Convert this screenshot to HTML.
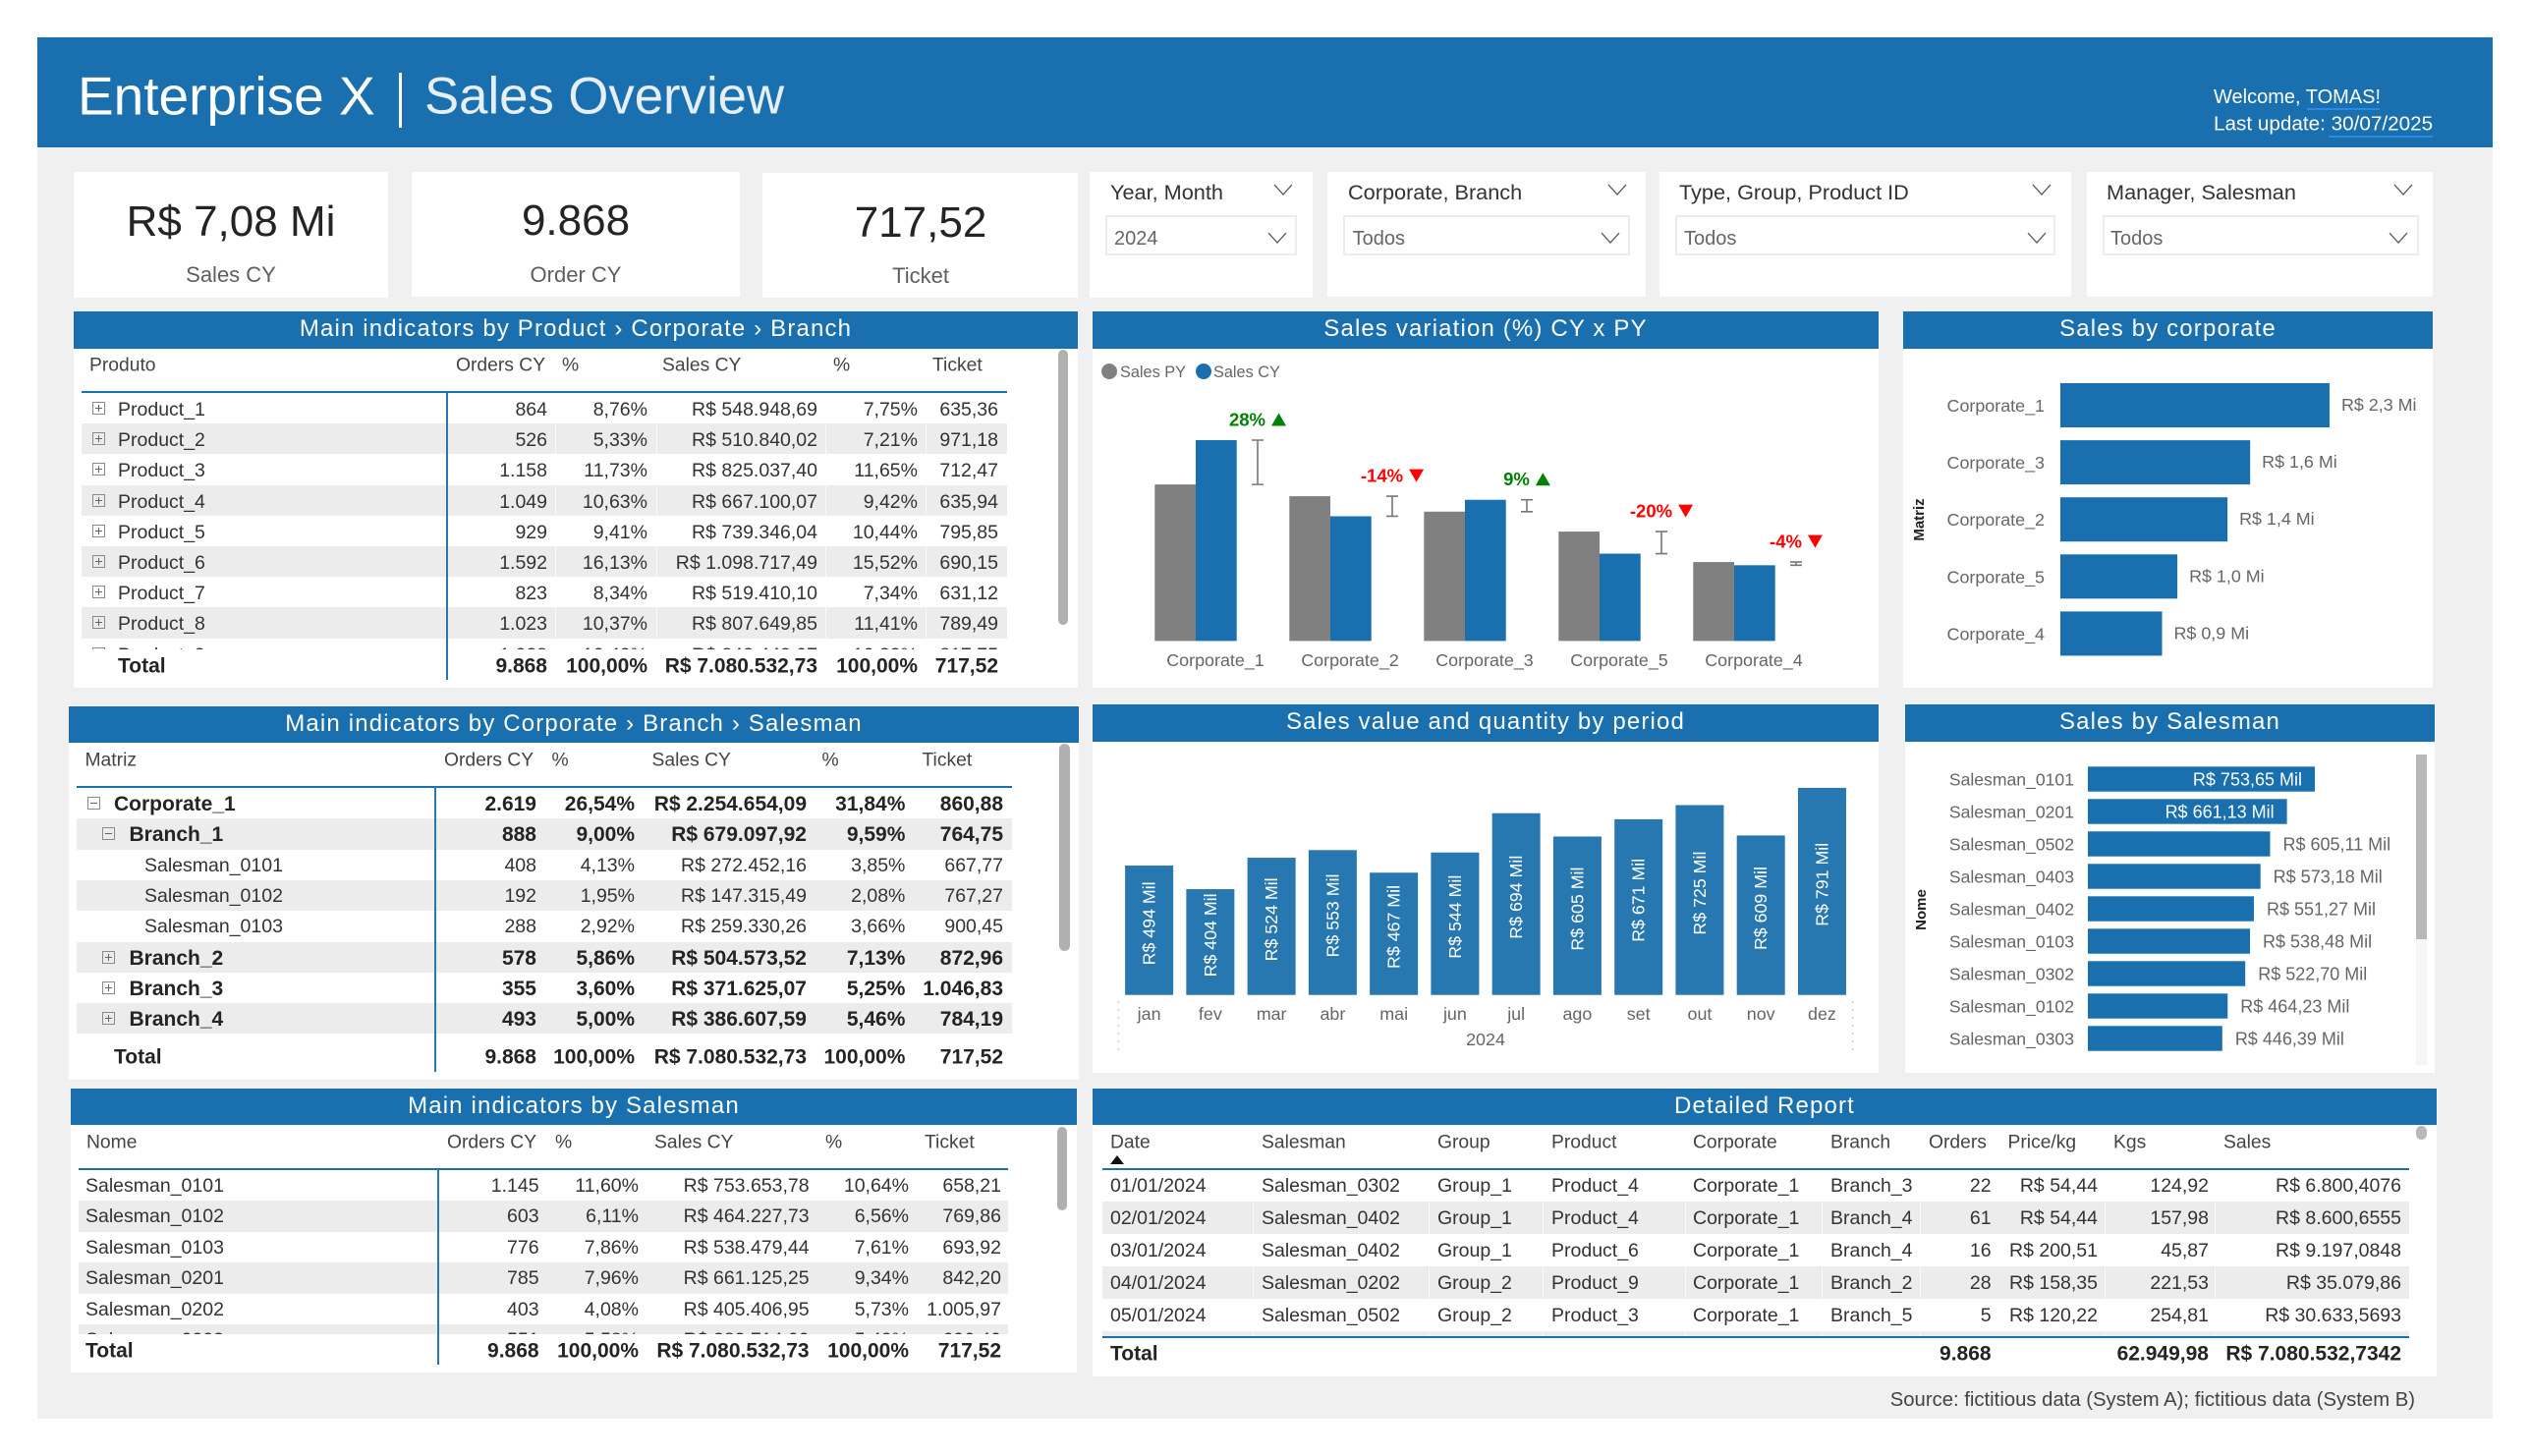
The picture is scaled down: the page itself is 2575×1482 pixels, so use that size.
<!DOCTYPE html>
<html lang="en">
<head>
<meta charset="utf-8">
<title>Enterprise X | Sales Overview</title>
<style>
html,body{margin:0;padding:0;background:#fff}
#page{position:relative;width:2575px;height:1482px;overflow:hidden;background:#fff;font-family:"Liberation Sans",sans-serif;color:#333}
#bg{position:absolute;left:38px;top:38px;width:2499px;height:1406px;background:#f0f0f0}
.box{position:absolute;background:#fff}
.bar{position:absolute;background:#1a6fae;color:#fff;text-align:center;font-size:24px;letter-spacing:1.15px;display:flex;align-items:center;justify-content:center;box-sizing:border-box;padding-bottom:2px}
.t{position:absolute;white-space:nowrap;line-height:1;transform:translateY(-50%)}
.tc{position:absolute;white-space:nowrap;line-height:1;transform:translate(-50%,-50%)}
.chev{position:absolute;width:20px;height:12px;overflow:visible}
.chev polyline{fill:none;stroke:#555;stroke-width:1.3}
.field{position:absolute;top:219px;height:41px;box-sizing:border-box;border:2px solid #ececec;background:#fff}
.hd{font-size:19.3px;color:#444}
.tb{position:absolute;overflow:hidden}
.row{position:absolute;left:0;right:0;font-size:19.5px;color:#333}
.row.alt{background:#ececec}
.row.b{font-weight:bold;font-size:21px;color:#252423}
.c{position:absolute;top:0;white-space:nowrap;line-height:inherit}
.tot{font-weight:bold;font-size:21px;color:#252423}
.hline{position:absolute;height:2px;background:#1a6fae}
.vline{position:absolute;width:2px;background:#2a76ae}
.sep{position:absolute;width:1px;background:rgba(255,255,255,.75)}
.thumb{position:absolute;background:#b0b0b0;border-radius:6px}
.ico{position:absolute;width:11px;height:11px;border:1px solid #8a8a8a;box-sizing:content-box}
.ico::before{content:"";position:absolute;left:2px;right:2px;top:5px;height:1px;background:#666}
.ico.plus::after{content:"";position:absolute;top:2px;bottom:2px;left:5px;width:1px;background:#666}
svg.chart{position:absolute;overflow:visible}
svg.chart text{font-family:"Liberation Sans",sans-serif}
#t1 .r1{right:468px}#t1 .r2{right:366px}#t1 .r3{right:193px}#t1 .r4{right:91px}#t1 .r5{right:9px}
#t1 .row{height:31.2px;line-height:34.5px}
#t2 .r1{right:484px}#t2 .r2{right:384px}#t2 .r3{right:209px}#t2 .r4{right:108.6px}#t2 .r5{right:9px}
#t2 .row{height:31.3px;line-height:33.5px}
#t3 .r1{right:477.8px}#t3 .r2{right:376.4px}#t3 .r3{right:202.8px}#t3 .r4{right:101.4px}#t3 .r5{right:7.4px}
#t3 .row{height:31.4px;line-height:33.5px}
#t4 .row{height:33px;line-height:34px}
#t4 .d1{left:8px}#t4 .d2{left:162px}#t4 .d3{left:341px}#t4 .d4{left:457px}#t4 .d5{left:601px}#t4 .d6{left:741px}
#t4 .r1{right:425.4px}#t4 .r2{right:317px}#t4 .r3{right:204px}#t4 .r4{right:8px}
</style>
</head>
<body>
<div id="page">
<div id="bg"></div>

<div class="box" style="left:38px;top:38px;width:2499px;height:112px;background:#1a6fae"></div>
<div class="t" style="left:79px;top:98px;font-size:55px;color:#fff">Enterprise X</div>
<div class="box" style="left:406px;top:74px;width:2.5px;height:56px;background:#fff"></div>
<div class="t" style="left:432px;top:98.5px;font-size:52.7px;color:#e6eff6">Sales Overview</div>
<div class="t" style="left:2253px;top:98.5px;font-size:20px;color:#fff">Welcome, TOMAS!</div>
<div class="box" style="left:2348px;top:110px;width:74px;height:1.5px;background:#2d8ae0"></div>
<div class="t" style="left:2253px;top:126.5px;font-size:20.7px;color:#fff">Last update: 30/07/2025</div>
<div class="box" style="left:2370px;top:138px;width:106px;height:1.5px;background:#2d8ae0"></div>

<div class="box" style="left:75px;top:175px;width:320px;height:128px"></div>
<div class="tc" style="left:235px;top:226px;font-size:44px;color:#252423">R$ 7,08 Mi</div>
<div class="tc" style="left:235px;top:279.5px;font-size:22px;color:#605e5c">Sales CY</div>
<div class="box" style="left:419px;top:175px;width:334px;height:127px"></div>
<div class="tc" style="left:586px;top:225px;font-size:44px;color:#252423">9.868</div>
<div class="tc" style="left:586px;top:279.5px;font-size:22px;color:#605e5c">Order CY</div>
<div class="box" style="left:776px;top:176px;width:321px;height:127px"></div>
<div class="tc" style="left:937px;top:227px;font-size:44px;color:#252423">717,52</div>
<div class="tc" style="left:937px;top:280.5px;font-size:22px;color:#605e5c">Ticket</div>

<div class="box" style="left:1109px;top:175px;width:227px;height:128px"></div>
<div class="t" style="left:1130px;top:196px;font-size:21.7px;color:#333">Year, Month</div>
<svg class="chev" style="left:1296px;top:187px" viewBox="0 0 20 12"><polyline points="1,1 10,11 19,1"/></svg>
<div class="field" style="left:1125px;width:195px"></div>
<div class="t" style="left:1134px;top:243px;font-size:20px;color:#666">2024</div>
<svg class="chev" style="left:1290px;top:236px" viewBox="0 0 20 12"><polyline points="1,1 10,11 19,1"/></svg>

<div class="box" style="left:1351px;top:175px;width:324px;height:127px"></div>
<div class="t" style="left:1372px;top:196px;font-size:21.7px;color:#333">Corporate, Branch</div>
<svg class="chev" style="left:1636px;top:187px" viewBox="0 0 20 12"><polyline points="1,1 10,11 19,1"/></svg>
<div class="field" style="left:1367px;width:292px"></div>
<div class="t" style="left:1376.6px;top:243px;font-size:20px;color:#666">Todos</div>
<svg class="chev" style="left:1629px;top:236px" viewBox="0 0 20 12"><polyline points="1,1 10,11 19,1"/></svg>

<div class="box" style="left:1689px;top:175px;width:419px;height:127px"></div>
<div class="t" style="left:1709px;top:196px;font-size:21.7px;color:#333">Type, Group, Product ID</div>
<svg class="chev" style="left:2068px;top:187px" viewBox="0 0 20 12"><polyline points="1,1 10,11 19,1"/></svg>
<div class="field" style="left:1705px;width:387px"></div>
<div class="t" style="left:1714px;top:243px;font-size:20px;color:#666">Todos</div>
<svg class="chev" style="left:2063px;top:236px" viewBox="0 0 20 12"><polyline points="1,1 10,11 19,1"/></svg>

<div class="box" style="left:2124px;top:175px;width:352px;height:127px"></div>
<div class="t" style="left:2144px;top:196px;font-size:21.7px;color:#333">Manager, Salesman</div>
<svg class="chev" style="left:2436px;top:187px" viewBox="0 0 20 12"><polyline points="1,1 10,11 19,1"/></svg>
<div class="field" style="left:2139.5px;width:322px"></div>
<div class="t" style="left:2148px;top:243px;font-size:20px;color:#666">Todos</div>
<svg class="chev" style="left:2431px;top:236px" viewBox="0 0 20 12"><polyline points="1,1 10,11 19,1"/></svg>

<!-- Panel: product table -->
<div class="box" style="left:75px;top:355px;width:1022px;height:345px"></div>
<div class="bar" style="left:75px;top:317px;width:1022px;height:38px">Main indicators by Product › Corporate › Branch</div>
<div class="t hd" style="left:91px;top:371.5px">Produto</div>
<div class="t hd" style="left:464px;top:371.5px">Orders CY</div>
<div class="t hd" style="left:572px;top:371.5px">%</div>
<div class="t hd" style="left:674px;top:371.5px">Sales CY</div>
<div class="t hd" style="left:848px;top:371.5px">%</div>
<div class="t hd" style="left:949px;top:371.5px">Ticket</div>
<div id="t1" class="tb" style="left:83px;top:400px;width:942px;height:261px">
<div class="row" style="top:0"><span class="ico plus" style="left:11px;top:9px"></span><span class="c" style="left:37px">Product_1</span><span class="c r1">864</span><span class="c r2">8,76%</span><span class="c r3">R$ 548.948,69</span><span class="c r4">7,75%</span><span class="c r5">635,36</span></div>
<div class="row alt" style="top:31.2px"><span class="ico plus" style="left:11px;top:9px"></span><span class="c" style="left:37px">Product_2</span><span class="c r1">526</span><span class="c r2">5,33%</span><span class="c r3">R$ 510.840,02</span><span class="c r4">7,21%</span><span class="c r5">971,18</span></div>
<div class="row" style="top:62.4px"><span class="ico plus" style="left:11px;top:9px"></span><span class="c" style="left:37px">Product_3</span><span class="c r1">1.158</span><span class="c r2">11,73%</span><span class="c r3">R$ 825.037,40</span><span class="c r4">11,65%</span><span class="c r5">712,47</span></div>
<div class="row alt" style="top:93.6px"><span class="ico plus" style="left:11px;top:9px"></span><span class="c" style="left:37px">Product_4</span><span class="c r1">1.049</span><span class="c r2">10,63%</span><span class="c r3">R$ 667.100,07</span><span class="c r4">9,42%</span><span class="c r5">635,94</span></div>
<div class="row" style="top:124.8px"><span class="ico plus" style="left:11px;top:9px"></span><span class="c" style="left:37px">Product_5</span><span class="c r1">929</span><span class="c r2">9,41%</span><span class="c r3">R$ 739.346,04</span><span class="c r4">10,44%</span><span class="c r5">795,85</span></div>
<div class="row alt" style="top:156px"><span class="ico plus" style="left:11px;top:9px"></span><span class="c" style="left:37px">Product_6</span><span class="c r1">1.592</span><span class="c r2">16,13%</span><span class="c r3">R$ 1.098.717,49</span><span class="c r4">15,52%</span><span class="c r5">690,15</span></div>
<div class="row" style="top:187.2px"><span class="ico plus" style="left:11px;top:9px"></span><span class="c" style="left:37px">Product_7</span><span class="c r1">823</span><span class="c r2">8,34%</span><span class="c r3">R$ 519.410,10</span><span class="c r4">7,34%</span><span class="c r5">631,12</span></div>
<div class="row alt" style="top:218.4px"><span class="ico plus" style="left:11px;top:9px"></span><span class="c" style="left:37px">Product_8</span><span class="c r1">1.023</span><span class="c r2">10,37%</span><span class="c r3">R$ 807.649,85</span><span class="c r4">11,41%</span><span class="c r5">789,49</span></div>
<div class="row" style="top:249.6px"><span class="ico plus" style="left:11px;top:9px"></span><span class="c" style="left:37px">Product_9</span><span class="c r1">1.028</span><span class="c r2">10,42%</span><span class="c r3">R$ 843.443,07</span><span class="c r4">10,33%</span><span class="c r5">817,75</span></div>
<div class="sep" style="left:482px;top:0;height:259px"></div>
<div class="sep" style="left:584.5px;top:0;height:259px"></div>
<div class="sep" style="left:757px;top:0;height:259px"></div>
<div class="sep" style="left:859px;top:0;height:259px"></div>
</div>
<div class="hline" style="left:83px;top:398px;width:942px"></div>
<div class="vline" style="left:454px;top:399px;height:293px"></div>
<div class="t tot" style="left:120px;top:678px">Total</div>
<div class="t tot" style="right:2018px;top:678px">9.868</div>
<div class="t tot" style="right:1916px;top:678px">100,00%</div>
<div class="t tot" style="right:1743px;top:678px">R$ 7.080.532,73</div>
<div class="t tot" style="right:1641px;top:678px">100,00%</div>
<div class="t tot" style="right:1559px;top:678px">717,52</div>
<div class="thumb" style="left:1077px;top:356px;width:10px;height:280px"></div>

<!-- Panel: corporate table -->
<div class="box" style="left:70px;top:756px;width:1028px;height:343px"></div>
<div class="bar" style="left:70px;top:719px;width:1028px;height:37px">Main indicators by Corporate › Branch › Salesman</div>
<div class="t hd" style="left:86.5px;top:773.5px">Matriz</div>
<div class="t hd" style="left:452px;top:773.5px">Orders CY</div>
<div class="t hd" style="left:561.5px;top:773.5px">%</div>
<div class="t hd" style="left:663.5px;top:773.5px">Sales CY</div>
<div class="t hd" style="left:836.5px;top:773.5px">%</div>
<div class="t hd" style="left:938.5px;top:773.5px">Ticket</div>
<div id="t2" class="tb" style="left:78px;top:802px;width:952px;height:250px">
<div class="row b" style="top:0"><span class="ico" style="left:11px;top:9px"></span><span class="c" style="left:38px">Corporate_1</span><span class="c r1">2.619</span><span class="c r2">26,54%</span><span class="c r3">R$ 2.254.654,09</span><span class="c r4">31,84%</span><span class="c r5">860,88</span></div>
<div class="row b alt" style="top:31.3px"><span class="ico" style="left:26px;top:9px"></span><span class="c" style="left:53.5px">Branch_1</span><span class="c r1">888</span><span class="c r2">9,00%</span><span class="c r3">R$ 679.097,92</span><span class="c r4">9,59%</span><span class="c r5">764,75</span></div>
<div class="row" style="top:62.6px"><span class="c" style="left:69px">Salesman_0101</span><span class="c r1">408</span><span class="c r2">4,13%</span><span class="c r3">R$ 272.452,16</span><span class="c r4">3,85%</span><span class="c r5">667,77</span></div>
<div class="row alt" style="top:93.9px"><span class="c" style="left:69px">Salesman_0102</span><span class="c r1">192</span><span class="c r2">1,95%</span><span class="c r3">R$ 147.315,49</span><span class="c r4">2,08%</span><span class="c r5">767,27</span></div>
<div class="row" style="top:125.2px"><span class="c" style="left:69px">Salesman_0103</span><span class="c r1">288</span><span class="c r2">2,92%</span><span class="c r3">R$ 259.330,26</span><span class="c r4">3,66%</span><span class="c r5">900,45</span></div>
<div class="row b alt" style="top:156.5px"><span class="ico plus" style="left:26px;top:9px"></span><span class="c" style="left:53.5px">Branch_2</span><span class="c r1">578</span><span class="c r2">5,86%</span><span class="c r3">R$ 504.573,52</span><span class="c r4">7,13%</span><span class="c r5">872,96</span></div>
<div class="row b" style="top:187.8px"><span class="ico plus" style="left:26px;top:9px"></span><span class="c" style="left:53.5px">Branch_3</span><span class="c r1">355</span><span class="c r2">3,60%</span><span class="c r3">R$ 371.625,07</span><span class="c r4">5,25%</span><span class="c r5">1.046,83</span></div>
<div class="row b alt" style="top:219.1px"><span class="ico plus" style="left:26px;top:9px"></span><span class="c" style="left:53.5px">Branch_4</span><span class="c r1">493</span><span class="c r2">5,00%</span><span class="c r3">R$ 386.607,59</span><span class="c r4">5,46%</span><span class="c r5">784,19</span></div>
</div>
<div class="hline" style="left:78px;top:800px;width:952px"></div>
<div class="vline" style="left:442px;top:801px;height:290px"></div>
<div class="t tot" style="left:116px;top:1076px">Total</div>
<div class="t tot" style="right:2029px;top:1076px">9.868</div>
<div class="t tot" style="right:1929px;top:1076px">100,00%</div>
<div class="t tot" style="right:1754px;top:1076px">R$ 7.080.532,73</div>
<div class="t tot" style="right:1653.6px;top:1076px">100,00%</div>
<div class="t tot" style="right:1554px;top:1076px">717,52</div>
<div class="thumb" style="left:1078px;top:757px;width:11px;height:211px"></div>

<!-- Panel: salesman table -->
<div class="box" style="left:72px;top:1145px;width:1024px;height:252px"></div>
<div class="bar" style="left:72px;top:1108px;width:1024px;height:37px">Main indicators by Salesman</div>
<div class="t hd" style="left:88px;top:1162.5px">Nome</div>
<div class="t hd" style="left:455px;top:1162.5px">Orders CY</div>
<div class="t hd" style="left:565px;top:1162.5px">%</div>
<div class="t hd" style="left:666px;top:1162.5px">Sales CY</div>
<div class="t hd" style="left:840px;top:1162.5px">%</div>
<div class="t hd" style="left:941px;top:1162.5px">Ticket</div>
<div id="t3" class="tb" style="left:80px;top:1191px;width:946.4px;height:167px">
<div class="row" style="top:0"><span class="c" style="left:7px">Salesman_0101</span><span class="c r1">1.145</span><span class="c r2">11,60%</span><span class="c r3">R$ 753.653,78</span><span class="c r4">10,64%</span><span class="c r5">658,21</span></div>
<div class="row alt" style="top:31.4px"><span class="c" style="left:7px">Salesman_0102</span><span class="c r1">603</span><span class="c r2">6,11%</span><span class="c r3">R$ 464.227,73</span><span class="c r4">6,56%</span><span class="c r5">769,86</span></div>
<div class="row" style="top:62.8px"><span class="c" style="left:7px">Salesman_0103</span><span class="c r1">776</span><span class="c r2">7,86%</span><span class="c r3">R$ 538.479,44</span><span class="c r4">7,61%</span><span class="c r5">693,92</span></div>
<div class="row alt" style="top:94.2px"><span class="c" style="left:7px">Salesman_0201</span><span class="c r1">785</span><span class="c r2">7,96%</span><span class="c r3">R$ 661.125,25</span><span class="c r4">9,34%</span><span class="c r5">842,20</span></div>
<div class="row" style="top:125.6px"><span class="c" style="left:7px">Salesman_0202</span><span class="c r1">403</span><span class="c r2">4,08%</span><span class="c r3">R$ 405.406,95</span><span class="c r4">5,73%</span><span class="c r5">1.005,97</span></div>
<div class="row alt" style="top:157px"><span class="c" style="left:7px">Salesman_0203</span><span class="c r1">551</span><span class="c r2">5,58%</span><span class="c r3">R$ 383.714,00</span><span class="c r4">5,42%</span><span class="c r5">696,40</span></div>
</div>
<div class="hline" style="left:80px;top:1189px;width:946.4px"></div>
<div class="vline" style="left:445px;top:1190px;height:199px"></div>
<div class="t tot" style="left:87px;top:1375px">Total</div>
<div class="t tot" style="right:2026.4px;top:1375px">9.868</div>
<div class="t tot" style="right:1925px;top:1375px">100,00%</div>
<div class="t tot" style="right:1751.4px;top:1375px">R$ 7.080.532,73</div>
<div class="t tot" style="right:1650px;top:1375px">100,00%</div>
<div class="t tot" style="right:1556px;top:1375px">717,52</div>
<div class="thumb" style="left:1076px;top:1147px;width:10px;height:85px"></div>

<!-- Panel: sales variation chart -->
<div class="box" style="left:1112px;top:355px;width:800px;height:345px"></div>
<div class="bar" style="left:1112px;top:317px;width:800px;height:38px">Sales variation (%) CY x PY</div>
<svg id="varChart" class="chart" style="left:1112px;top:355px" width="800" height="345" viewBox="1112 355 800 345"></svg>

<!-- Panel: sales by corporate -->
<div class="box" style="left:1937px;top:355px;width:539px;height:345px"></div>
<div class="bar" style="left:1937px;top:317px;width:539px;height:38px">Sales by corporate</div>
<svg id="corpChart" class="chart" style="left:1937px;top:355px" width="539" height="345" viewBox="1937 355 539 345"></svg>

<!-- Panel: sales by period -->
<div class="box" style="left:1112px;top:755px;width:800px;height:337px"></div>
<div class="bar" style="left:1112px;top:717px;width:800px;height:38px">Sales value and quantity by period</div>
<svg id="periodChart" class="chart" style="left:1112px;top:755px" width="800" height="337" viewBox="1112 755 800 337"></svg>

<!-- Panel: sales by salesman -->
<div class="box" style="left:1939px;top:755px;width:539px;height:337px"></div>
<div class="bar" style="left:1939px;top:717px;width:539px;height:38px">Sales by Salesman</div>
<svg id="salesmanChart" class="chart" style="left:1939px;top:755px" width="539" height="337" viewBox="1939 755 539 337"></svg>
<div class="box" style="left:2459px;top:768px;width:11px;height:316px;background:#f6f6f6"></div>
<div class="box" style="left:2459px;top:768px;width:11px;height:188px;background:#b8b8b8"></div>

<!-- Panel: detail table -->
<div class="box" style="left:1112px;top:1145px;width:1368px;height:256px"></div>
<div class="bar" style="left:1112px;top:1108px;width:1368px;height:37px">Detailed Report</div>
<div class="t hd" style="left:1130px;top:1162.5px">Date</div>
<div class="t hd" style="left:1284px;top:1162.5px">Salesman</div>
<div class="t hd" style="left:1463px;top:1162.5px">Group</div>
<div class="t hd" style="left:1579px;top:1162.5px">Product</div>
<div class="t hd" style="left:1723px;top:1162.5px">Corporate</div>
<div class="t hd" style="left:1863px;top:1162.5px">Branch</div>
<div class="t hd" style="left:1963px;top:1162.5px">Orders</div>
<div class="t hd" style="left:2043.5px;top:1162.5px">Price/kg</div>
<div class="t hd" style="left:2151px;top:1162.5px">Kgs</div>
<div class="t hd" style="left:2263px;top:1162.5px">Sales</div>
<div class="box" style="left:1130px;top:1176px;width:0;height:0;background:none;border-left:7.5px solid transparent;border-right:7.5px solid transparent;border-bottom:9px solid #111"></div>
<div id="t4" class="tb" style="left:1122px;top:1190px;width:1330px;height:170px">
<div class="row" style="top:0"><span class="c d1">01/01/2024</span><span class="c d2">Salesman_0302</span><span class="c d3">Group_1</span><span class="c d4">Product_4</span><span class="c d5">Corporate_1</span><span class="c d6">Branch_3</span><span class="c r1">22</span><span class="c r2">R$ 54,44</span><span class="c r3">124,92</span><span class="c r4">R$ 6.800,4076</span></div>
<div class="row alt" style="top:33px"><span class="c d1">02/01/2024</span><span class="c d2">Salesman_0402</span><span class="c d3">Group_1</span><span class="c d4">Product_4</span><span class="c d5">Corporate_1</span><span class="c d6">Branch_4</span><span class="c r1">61</span><span class="c r2">R$ 54,44</span><span class="c r3">157,98</span><span class="c r4">R$ 8.600,6555</span></div>
<div class="row" style="top:66px"><span class="c d1">03/01/2024</span><span class="c d2">Salesman_0402</span><span class="c d3">Group_1</span><span class="c d4">Product_6</span><span class="c d5">Corporate_1</span><span class="c d6">Branch_4</span><span class="c r1">16</span><span class="c r2">R$ 200,51</span><span class="c r3">45,87</span><span class="c r4">R$ 9.197,0848</span></div>
<div class="row alt" style="top:99px"><span class="c d1">04/01/2024</span><span class="c d2">Salesman_0202</span><span class="c d3">Group_2</span><span class="c d4">Product_9</span><span class="c d5">Corporate_1</span><span class="c d6">Branch_2</span><span class="c r1">28</span><span class="c r2">R$ 158,35</span><span class="c r3">221,53</span><span class="c r4">R$ 35.079,86</span></div>
<div class="row" style="top:132px"><span class="c d1">05/01/2024</span><span class="c d2">Salesman_0502</span><span class="c d3">Group_2</span><span class="c d4">Product_3</span><span class="c d5">Corporate_1</span><span class="c d6">Branch_5</span><span class="c r1">5</span><span class="c r2">R$ 120,22</span><span class="c r3">254,81</span><span class="c r4">R$ 30.633,5693</span></div>
<div class="row alt" style="top:165px"></div>
<div class="sep" style="left:153px;top:0;height:170px"></div>
<div class="sep" style="left:332px;top:0;height:170px"></div>
<div class="sep" style="left:448px;top:0;height:170px"></div>
<div class="sep" style="left:593px;top:0;height:170px"></div>
<div class="sep" style="left:732px;top:0;height:170px"></div>
<div class="sep" style="left:832px;top:0;height:170px"></div>
<div class="sep" style="left:1020px;top:0;height:170px"></div>
<div class="sep" style="left:1132px;top:0;height:170px"></div>
</div>
<div class="hline" style="left:1122px;top:1189px;width:1330px"></div>
<div class="hline" style="left:1122px;top:1360px;width:1330px"></div>
<div class="t tot" style="left:1130px;top:1378px">Total</div>
<div class="t tot" style="right:548.4px;top:1378px">9.868</div>
<div class="t tot" style="right:327px;top:1378px">62.949,98</div>
<div class="t tot" style="right:131px;top:1378px">R$ 7.080.532,7342</div>
<div class="thumb" style="left:2459px;top:1146px;width:11px;height:14px;background:#b8b8b8"></div>

<div class="t" style="right:117px;top:1425px;font-size:20.3px;color:#444">Source: fictitious data (System A); fictitious data (System B)</div>
</div>

<script>
// Sales variation chart data (R$ thousand)
const varCategories = ['Corporate_1', 'Corporate_2', 'Corporate_3', 'Corporate_5', 'Corporate_4'];
const varSalesPY = [1757, 1625, 1452, 1228, 886];
const varSalesCY = [2254.65, 1400, 1585, 980, 850];
const varLegend = ['Sales PY', 'Sales CY'];

// Sales by corporate data (R$ million)
const corpCategories = ['Corporate_1', 'Corporate_3', 'Corporate_2', 'Corporate_5', 'Corporate_4'];
const corpSales = [2.25465, 1.59, 1.40, 0.98, 0.852];

// Sales by period data (R$ thousand)
const periodMonths = ['jan', 'fev', 'mar', 'abr', 'mai', 'jun', 'jul', 'ago', 'set', 'out', 'nov', 'dez'];
const periodSales = [494, 404, 524, 553, 467, 544, 694, 605, 671, 725, 609, 791];
const periodYear = '2024';

// Sales by salesman data (R$ thousand)
const salesmanNames = ['Salesman_0101', 'Salesman_0201', 'Salesman_0502', 'Salesman_0403', 'Salesman_0402', 'Salesman_0103', 'Salesman_0302', 'Salesman_0102', 'Salesman_0303'];
const salesmanSales = [753.65, 661.13, 605.11, 573.18, 551.27, 538.48, 522.70, 464.23, 446.39];

const SVGNS = 'http://www.w3.org/2000/svg';
const BLUE = '#1a6fae';
const GRAY = '#808080';
function mk(parent, tag, attrs, txt) {
  const n = document.createElementNS(SVGNS, tag);
  for (const k in attrs) n.setAttribute(k, attrs[k]);
  if (txt !== undefined) n.textContent = txt;
  parent.appendChild(n);
  return n;
}
let el;

// ---- Sales variation ----
const varSvg = document.getElementById('varChart');
const varBase = 652.4;
const varY = v => varBase - v * (204.4 / 2254.65);
const varBandX = i => 1238 + 137 * i;
const varBarW = 41.7;

el = mk(varSvg, 'circle', {cx: 1129, cy: 378, r: 8, fill: GRAY});


el = mk(varSvg, 'text', {x: 1140, y: 384, 'font-size': 16.3, fill: '#666'}, varLegend[0]);


el = mk(varSvg, 'circle', {cx: 1225, cy: 378, r: 8, fill: BLUE});


el = mk(varSvg, 'text', {x: 1235, y: 384, 'font-size': 16.3, fill: '#666'}, varLegend[1]);



varCategories.forEach((cat, i) => {
  const c = varBandX(i);
  const yP = varY(varSalesPY[i]);
  const yC = varY(varSalesCY[i]);
  el = mk(varSvg, 'rect', {x: c - 21 - varBarW, y: yP, width: varBarW, height: varBase - yP, fill: GRAY});
  
  
  el = mk(varSvg, 'rect', {x: c - 21, y: yC, width: varBarW, height: varBase - yC, fill: BLUE});
  
  
  const ex = c + 42;
  const top = Math.min(yP, yC);
  const bot = Math.max(yP, yC);
  el = mk(varSvg, 'path', {d: `M${ex - 6} ${top}H${ex + 6}M${ex} ${top}V${bot}M${ex - 6} ${bot}H${ex + 6}`, stroke: '#777', 'stroke-width': 1.6, fill: 'none'});
  
  
  const pct = Math.round((varSalesCY[i] / varSalesPY[i] - 1) * 100);
  const color = pct >= 0 ? '#008000' : '#ff0000';
  const label = mk(varSvg, 'text', {x: ex, y: top - 21 + 6.5, 'font-size': 18.5, 'font-weight': 'bold', fill: color}, pct + '%');
  
  
  const w = label.getComputedTextLength();
  const total = w + 6 + 15;
  const lx = ex - total / 2;
  label.setAttribute('x', lx);
  const tx = lx + w + 6;
  const ty = top - 21;
  const pts = pct >= 0
    ? `${tx},${ty + 6.5} ${tx + 15},${ty + 6.5} ${tx + 7.5},${ty - 6.5}`
    : `${tx},${ty - 6.5} ${tx + 15},${ty - 6.5} ${tx + 7.5},${ty + 6.5}`;
  el = mk(varSvg, 'polygon', {points: pts, fill: color});
  
  
  el = mk(varSvg, 'text', {x: c - 1, y: 678, 'font-size': 17.9, fill: '#666', 'text-anchor': 'middle'}, cat);
  
  
});

// ---- Sales by corporate ----
const corpSvg = document.getElementById('corpChart');
const corpX0 = 2097;
const corpX = v => v * 121.5;
const corpTop = i => 390 + 58.1 * i;
corpCategories.forEach((cat, i) => {
  const t = corpTop(i);
  const w = corpX(corpSales[i]);
  el = mk(corpSvg, 'rect', {x: corpX0, y: t, width: w, height: 45, fill: BLUE});
  
  
  el = mk(corpSvg, 'text', {x: 2081, y: t + 29, 'font-size': 17.9, fill: '#666', 'text-anchor': 'end'}, cat);
  
  
  el = mk(corpSvg, 'text', {x: corpX0 + w + 12, y: t + 28, 'font-size': 17.9, fill: '#666'}, 'R$ ' + corpSales[i].toFixed(1).replace('.', ',') + ' Mi');
  
  
});
el = mk(corpSvg, 'text', {transform: 'translate(1958 529) rotate(-90)', 'font-size': 15, 'font-weight': 'bold', fill: '#222', 'text-anchor': 'middle'}, 'Matriz');



// ---- Sales by period ----
const perSvg = document.getElementById('periodChart');
const perBase = 1012.7;
const perY = v => perBase - v * 0.2665;
const perX = i => 1169.6 + 62.26 * i;
const perW = 49;
periodMonths.forEach((m, i) => {
  const c = perX(i);
  const y = perY(periodSales[i]);
  el = mk(perSvg, 'rect', {x: c - perW / 2, y: y, width: perW, height: perBase - y, fill: '#2777b1'});
  
  
  el = mk(perSvg, 'text', {transform: `translate(${c + 6} ${(y + perBase) / 2 - 7}) rotate(-90)`, 'font-size': 17.8, fill: '#fff', 'text-anchor': 'middle'}, 'R$ ' + periodSales[i] + ' Mil');
  
  
  el = mk(perSvg, 'text', {x: c, y: 1038, 'font-size': 17.9, fill: '#666', 'text-anchor': 'middle'}, m);
  
  
});
el = mk(perSvg, 'text', {x: 1512, y: 1064, 'font-size': 17.9, fill: '#666', 'text-anchor': 'middle'}, periodYear);


el = mk(perSvg, 'path', {d: 'M1138.6 1019V1074M1885.5 1019V1074', stroke: '#ccc', 'stroke-width': 1.5, 'stroke-dasharray': '2 6', fill: 'none'});



// ---- Sales by salesman ----
const smSvg = document.getElementById('salesmanChart');
const smX0 = 2125;
const smX = v => v * 0.3065;
const smTop = i => 780.3 + 33 * i;
salesmanNames.forEach((name, i) => {
  const t = smTop(i);
  const v = salesmanSales[i];
  const w = smX(v);
  el = mk(smSvg, 'rect', {x: smX0, y: t, width: w, height: 25.4, fill: BLUE});
  
  
  el = mk(smSvg, 'text', {x: 2111, y: t + 19, 'font-size': 17.6, fill: '#666', 'text-anchor': 'end'}, name);
  
  
  const inside = v > 650;
  el = mk(smSvg, 'text', {x: inside ? smX0 + w - 13 : smX0 + w + 13, y: t + 19, 'font-size': 18, fill: inside ? '#fff' : '#666', 'text-anchor': inside ? 'end' : 'start'}, 'R$ ' + v.toFixed(2).replace('.', ',') + ' Mil');
  
  
});
el = mk(smSvg, 'text', {transform: 'translate(1960 926) rotate(-90)', 'font-size': 15, 'font-weight': 'bold', fill: '#222', 'text-anchor': 'middle'}, 'Nome');


</script>
</body>
</html>
